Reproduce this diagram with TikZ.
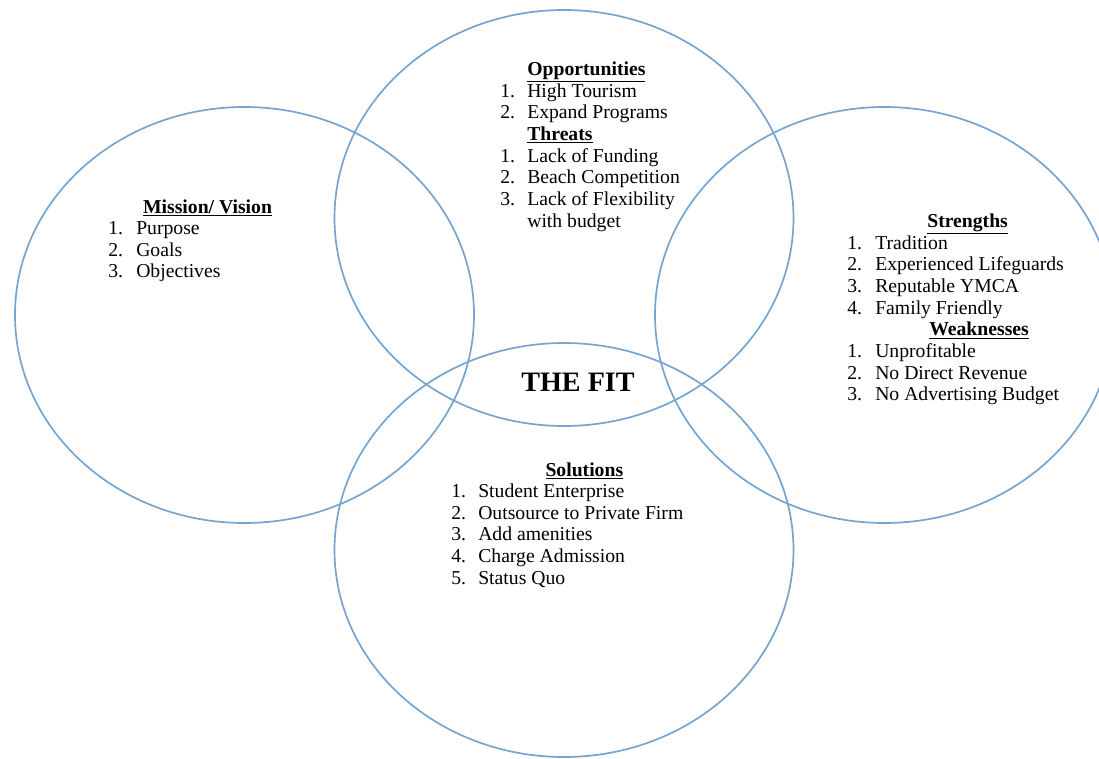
\documentclass[tikz,border=0pt]{standalone}
\usepackage{fontspec}
\setmainfont{Liberation Serif}

\definecolor{ringblue}{RGB}{118,164,208}
\newcommand{\hd}[1]{\underline{\textbf{#1}}}

\begin{document}
\begin{tikzpicture}[x=0.025cm, y=-0.025cm,
    ring/.style={draw=ringblue, line width=1.2pt},
    list/.style={anchor=base west, inner sep=0pt, font=\fontsize{14}{15.4}\selectfont}]
    % Fix the page to the reference size
    \useasboundingbox (0,0) rectangle (1099,758);

    % Define centres of the four circles
    \coordinate (L) at (244.5,315);
    \coordinate (T) at (564,218);
    \coordinate (R) at (884.5,315);
    \coordinate (B) at (564,550);

    % Draw the four overlapping circles
    \draw[ring] (L) ellipse [x radius=229.5, y radius=208];
    \draw[ring] (T) ellipse [x radius=229.5, y radius=208];
    \draw[ring] (R) ellipse [x radius=229.5, y radius=208];
    \draw[ring] (B) ellipse [x radius=229.5, y radius=207];

    % Left circle
    \node[list] (mission) at (108,213) {\begin{tabular}[t]{@{}p{0.7cm}@{}l@{}}
        & \hspace{0.17cm}\hd{Mission/ Vision}\\
        1. & Purpose\\
        2. & Goals\\
        3. & Objectives
    \end{tabular}};

    % Top circle
    \node[list] (opp) at (500,75) {\begin{tabular}[t]{@{}p{0.675cm}@{}l@{}}
        & \hd{Opportunities}\\
        1. & High Tourism\\
        2. & Expand Programs\\
        & \hd{Threats}\\
        1. & Lack of Funding\\
        2. & Beach Competition\\
        3. & Lack of Flexibility\\
        & with budget
    \end{tabular}};

    % Right circle
    \node[list] (strengths) at (847,227) {\begin{tabular}[t]{@{}p{0.7cm}@{}l@{}}
        & \hspace{1.3cm}\hd{Strengths}\\
        1. & Tradition\\
        2. & Experienced Lifeguards\\
        3. & Reputable YMCA\\
        4. & Family Friendly\\
        & \hspace{1.35cm}\hd{Weaknesses}\\
        1. & Unprofitable\\
        2. & No Direct Revenue\\
        3. & No Advertising Budget
    \end{tabular}};

    % Bottom circle
    \node[list] (solutions) at (451,476) {\begin{tabular}[t]{@{}p{0.675cm}@{}l@{}}
        & \hspace{1.68cm}\hd{Solutions}\\
        1. & Student Enterprise\\
        2. & Outsource to Private Firm\\
        3. & Add amenities\\
        4. & Charge Admission\\
        5. & Status Quo
    \end{tabular}};

    % Centre label
    \node[font=\fontsize{20}{24}\selectfont\bfseries] (fit) at (578,382) {THE FIT};
\end{tikzpicture}
\end{document}
